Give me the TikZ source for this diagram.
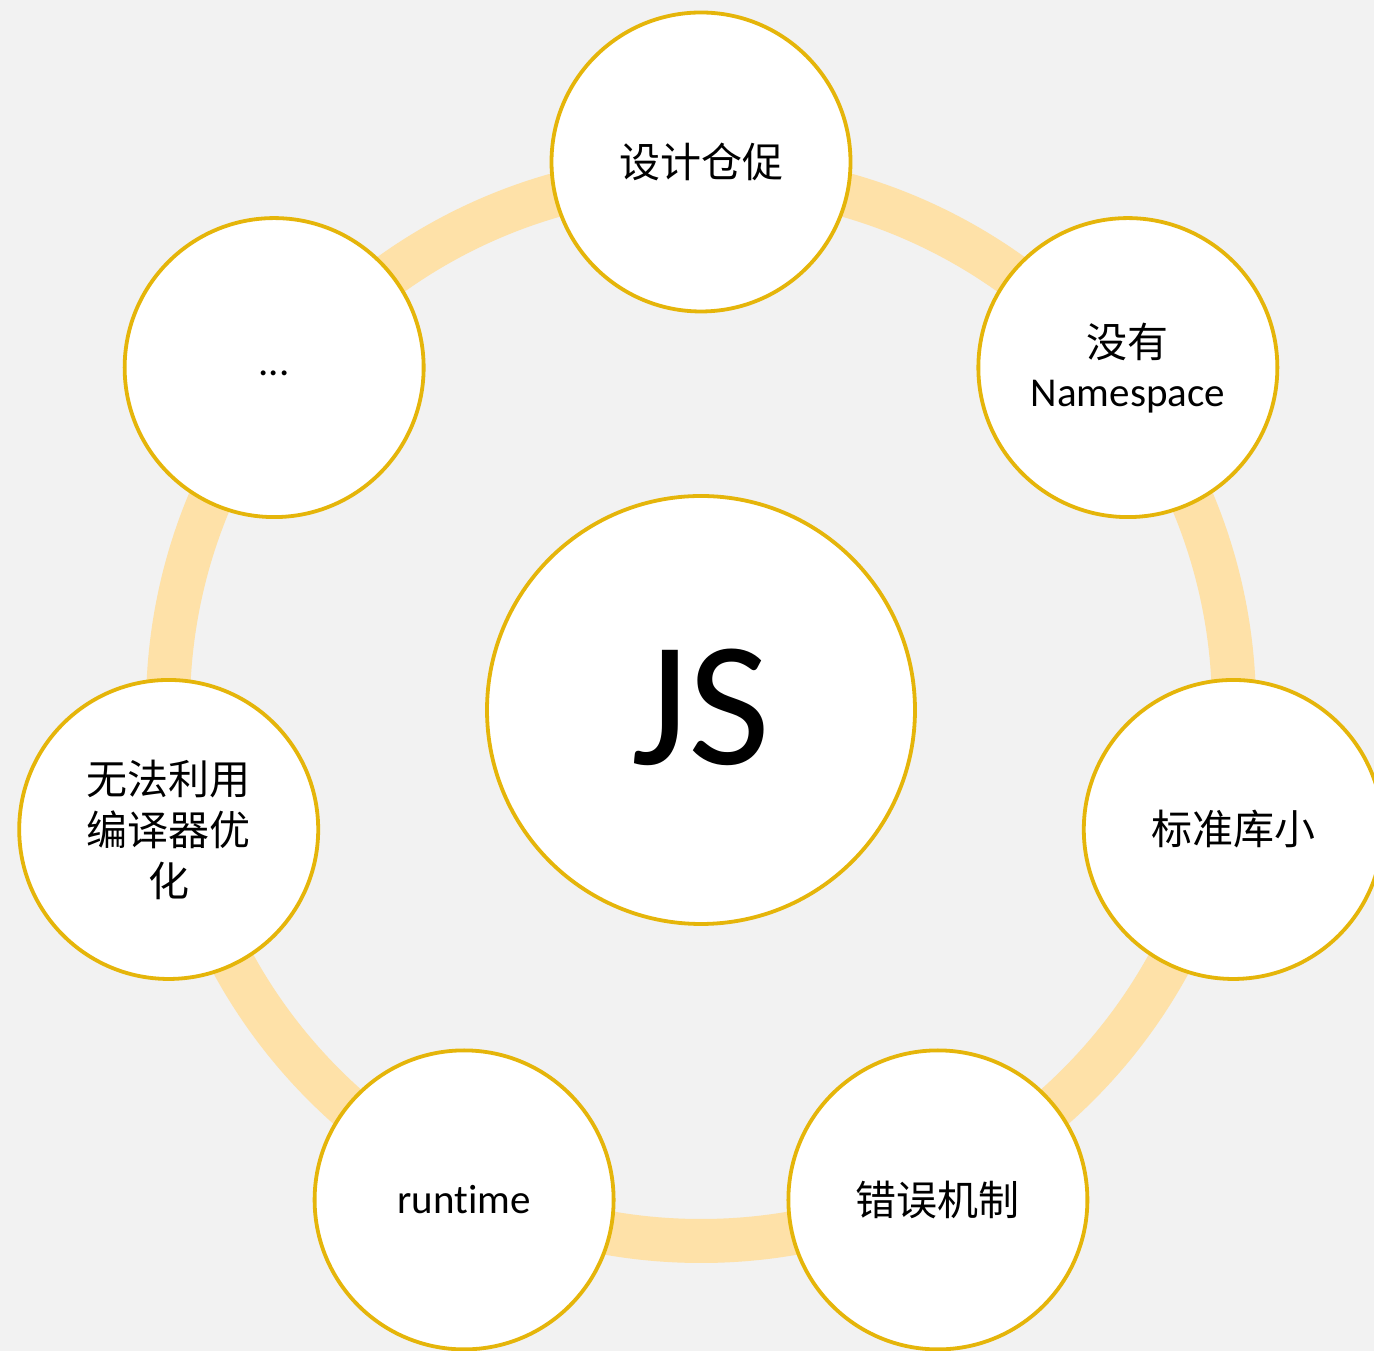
\documentclass[tikz,border=0pt]{standalone}
\usepackage{fontspec}
\setmainfont{Carlito}[RawFeature=-liga]
\newfontfamily\cjk{Noto Sans CJK SC}
\definecolor{paper}{HTML}{F2F2F2}
\definecolor{ringcol}{HTML}{FEE1A8}
\definecolor{rimcol}{HTML}{E5B50A}
\begin{document}
\begin{tikzpicture}[x=1pt,y=1pt,
  bubble/.style={circle,draw=rimcol,line width=3.8pt,fill=white,
    minimum size=299pt,inner sep=0pt,align=center,
    font=\fontsize{41}{50}\selectfont},
  hub/.style={bubble,minimum size=428pt,font=\fontsize{178}{180}\selectfont}]
  % canvas
  \fill[paper] (0,0) rectangle (1374,1351);
  \useasboundingbox (0,0) rectangle (1374,1351);
  \begin{scope}[shift={(701,643)}]
    % ring behind the bubbles
    \draw[ringcol,line width=44pt] (0,0) circle[radius=533pt];
    % centre
    \node[hub] (js) at (0,-2) {\raisebox{6pt}{JS}};
    % seven bubbles around the ring
    \node[bubble] (b0) at (90:546) {\cjk 设计仓促};
    \node[bubble] (b1) at (38.571:546) {{\cjk 没有}\\[-1pt]Namespace};
    \node[bubble] (b2) at (-12.857:546) {\cjk 标准库小};
    \node[bubble] (b3) at (-64.286:546) {\cjk 错误机制};
    \node[bubble] (b4) at (-115.714:546) {runtime};
    \node[bubble] (b5) at (-167.143:546) {\cjk 无法利用\\[1pt]\cjk 编译器优\\[1pt]\cjk 化};
    \node[bubble] (b6) at (141.429:546) {\raisebox{-16pt}{...}};
  \end{scope}
\end{tikzpicture}
\end{document}
